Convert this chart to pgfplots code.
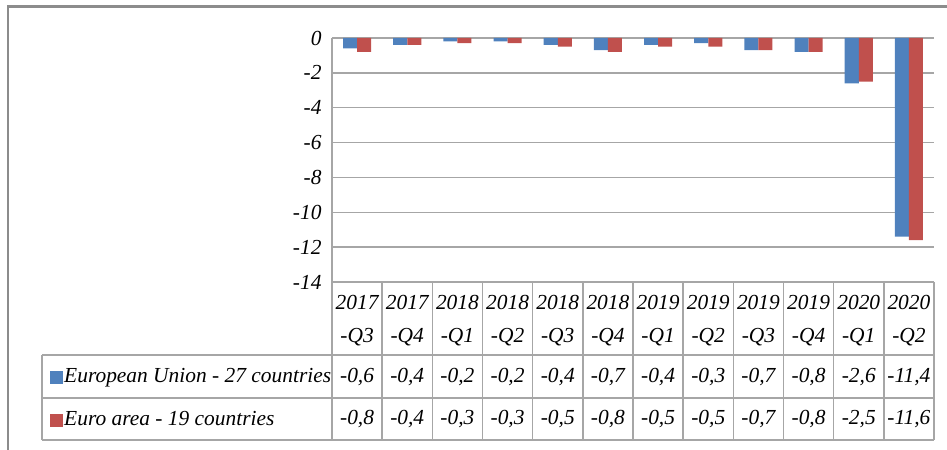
\documentclass[border=0pt]{standalone}
\usepackage{pgfplots}
\pgfplotsset{compat=1.18}
\usepackage{pgfplotstable}
\usepackage{fontspec}
\setmainfont{Liberation Serif}
\definecolor{euBlue}{HTML}{4F81BD}
\definecolor{eaRed}{HTML}{C0504D}
\definecolor{gridGray}{HTML}{A6A6A6}
\definecolor{frameGray}{HTML}{8C8C8C}
\newcommand\tf{\fontsize{21.5}{33}\selectfont\itshape}

\pgfplotstableread{
idx eu ea
0 -0.6 -0.8
1 -0.4 -0.4
2 -0.2 -0.3
3 -0.2 -0.3
4 -0.4 -0.5
5 -0.7 -0.8
6 -0.4 -0.5
7 -0.3 -0.5
8 -0.7 -0.7
9 -0.8 -0.8
10 -2.6 -2.5
11 -11.4 -11.6
}\data

\begin{document}
\begin{tikzpicture}[x=1bp,y=1bp]
\path[use as bounding box] (0,0) rectangle (947,450);
\draw[frameGray, line width=2.5bp] (8,-2) -- (8,443.5) -- (949,443.5);
\begin{axis}[
  at={(332bp,168bp)}, anchor=south west,
  scale only axis, width=602bp, height=244bp,
  xmin=-0.5, xmax=11.5, ymin=-14, ymax=0,
  axis y line*=left, axis x line*=bottom,
  x axis line style={draw=none},
  y axis line style={gridGray, line width=1.5bp, -},
  ymajorgrids, grid style={gridGray, line width=1.5bp},
  xtick={0,...,11},
  xticklabels={{2017\\-Q3},{2017\\-Q4},{2018\\-Q1},{2018\\-Q2},{2018\\-Q3},{2018\\-Q4},{2019\\-Q1},{2019\\-Q2},{2019\\-Q3},{2019\\-Q4},{2020\\-Q1},{2020\\-Q2}},
  xticklabel style={font=\tf, align=center, anchor=north, yshift=-10bp},
  ytick={-14,-12,-10,-8,-6,-4,-2,0},
  yticklabels={-14,-12,-10,-8,-6,-4,-2,0},
  yticklabel style={font=\tf, anchor=east, xshift=-7bp},
  tick style={draw=none},
  clip=false,
  legend style={at={(-0.4684,-0.344)}, anchor=north west, draw=none, fill=none,
    inner sep=0pt, font=\tf, row sep=21bp,
    nodes={inner sep=1bp, text height=15bp, text depth=5bp}},
  legend cell align=left,
  legend image code/.code={\path[#1,/tikz/.cd,draw=none] (0bp,-6.5bp) rectangle (13bp,6.5bp);},
]
\addplot[ybar, bar width=0.28, bar shift=-0.14, fill=euBlue, draw=none] table[x=idx,y=eu]{\data};
\addplot[ybar, bar width=0.28, bar shift=0.14, fill=eaRed, draw=none] table[x=idx,y=ea]{\data};
\legend{European Union - 27 countries, Euro area - 19 countries}
\end{axis}
% data table grid
\begin{scope}[gridGray, line width=1.5bp]
\draw (332,168) -- (934,168);
\draw (42,95) -- (934,95);
\draw (42,52) -- (934,52);
\draw (42,10) -- (934,10);
\draw (42,95) -- (42,10);
\draw (332,168) -- (332,10);
\foreach \k in {1,...,12} \draw ({332+50.1667*\k},168) -- ({332+50.1667*\k},10);
\end{scope}
\foreach \v [count=\i from 0] in {{-0,6},{-0,4},{-0,2},{-0,2},{-0,4},{-0,7},{-0,4},{-0,3},{-0,7},{-0,8},{-2,6},{-11,4}}
  \node[font=\tf, anchor=base, inner sep=0pt] at ({332+50.1667*(\i+0.5)}, 67) {\v};
\foreach \v [count=\i from 0] in {{-0,8},{-0,4},{-0,3},{-0,3},{-0,5},{-0,8},{-0,5},{-0,5},{-0,7},{-0,8},{-2,5},{-11,6}}
  \node[font=\tf, anchor=base, inner sep=0pt] at ({332+50.1667*(\i+0.5)}, 25) {\v};
\end{tikzpicture}
\end{document}
